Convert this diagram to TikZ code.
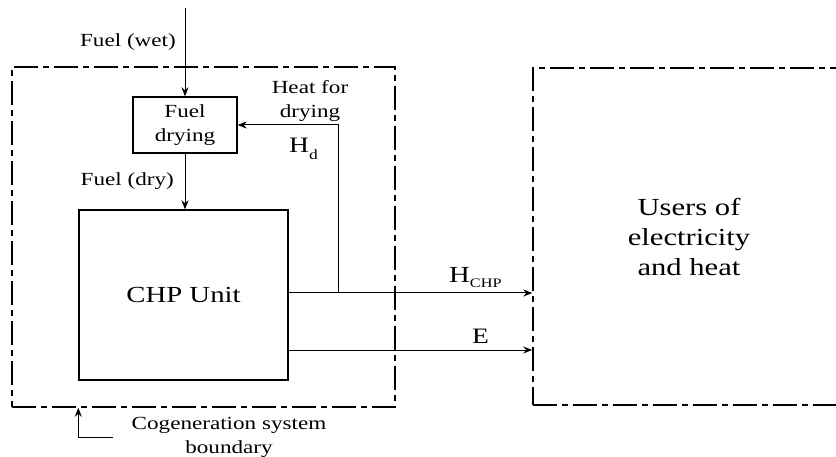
\documentclass[tikz,border=0pt]{standalone}
\usepackage{fontspec}
\setmainfont{Liberation Serif}[FakeStretch=1.25]
\usetikzlibrary{arrows.meta, positioning}

\begin{document}
\begin{tikzpicture}[
        x=1pt, y=-1pt,
        smalltxt/.style={font=\fontsize{18.5}{24}\selectfont, align=center, inner sep=0pt},
        bigtxt/.style={font=\fontsize{23}{30}\selectfont, align=center, inner sep=0pt},
        block/.style={draw, line width=1.4pt, inner sep=0pt},
        border/.style={draw, line width=1.5pt, dash pattern=on 24pt off 5pt on 6pt off 5pt, inner sep=0pt},
        flow/.style={draw, line width=1pt, -{Stealth[length=9pt,width=7pt]}}
    ]
    \clip (0,0) rectangle (836,457);

    % System boundary and users
    \node[border, minimum width=383pt, minimum height=340pt] (sys) at (203.5,237) {};
    \node[border, bigtxt, font=\fontsize{24.5}{30}\selectfont, minimum width=312pt, minimum height=337pt] (users) at (689,236.5) {Users of\\electricity\\and heat};

    % Blocks
    \node[block, smalltxt, minimum width=104pt, minimum height=56pt] (drying) at (185,125) {Fuel\\drying};
    \node[block, bigtxt, minimum width=209pt, minimum height=170pt] (chp) at (183.5,295) {CHP Unit};

    % Labels
    \node[smalltxt, anchor=base east] (wetlbl) at (176,47) {Fuel (wet)};
    \node[smalltxt, anchor=base east] (drylbl) at (174,186) {Fuel (dry)};
    \node[smalltxt] (heatlbl) at (310,101) {Heat for\\drying};
    \node[bigtxt, font=\fontsize{22}{26}\selectfont, anchor=base west] (hdlbl) at (289,153) {H\raisebox{-7pt}{\fontsize{14}{14}\selectfont d}};
    \node[bigtxt, anchor=base west] (hchplbl) at (449,283) {H\raisebox{-5pt}{\fontsize{13}{13}\selectfont CHP}};
    \node[bigtxt, font=\fontsize{22}{26}\selectfont, anchor=base west] (elbl) at (472,343) {E};
    \node[smalltxt] (bndlbl) at (229,437) {Cogeneration system\\boundary};

    % Connectors
    \coordinate (fuelin) at (185,8);
    \coordinate (hout) at (288,293);
    \coordinate (eout) at (288,350);
    \coordinate (tap) at (338,293);
    \coordinate (ptr) at (113,437);
    \draw[flow] (fuelin) -- (drying.north);
    \draw[flow] (drying.south) -- (drying.south |- chp.north);
    \draw[flow] (hout) -- (hout -| users.west);
    \draw[flow] (eout) -- (eout -| users.west);
    \draw[flow] (tap) |- (drying.east);
    \draw[flow] (ptr) -| (chp.west |- sys.south);
\end{tikzpicture}
\end{document}
